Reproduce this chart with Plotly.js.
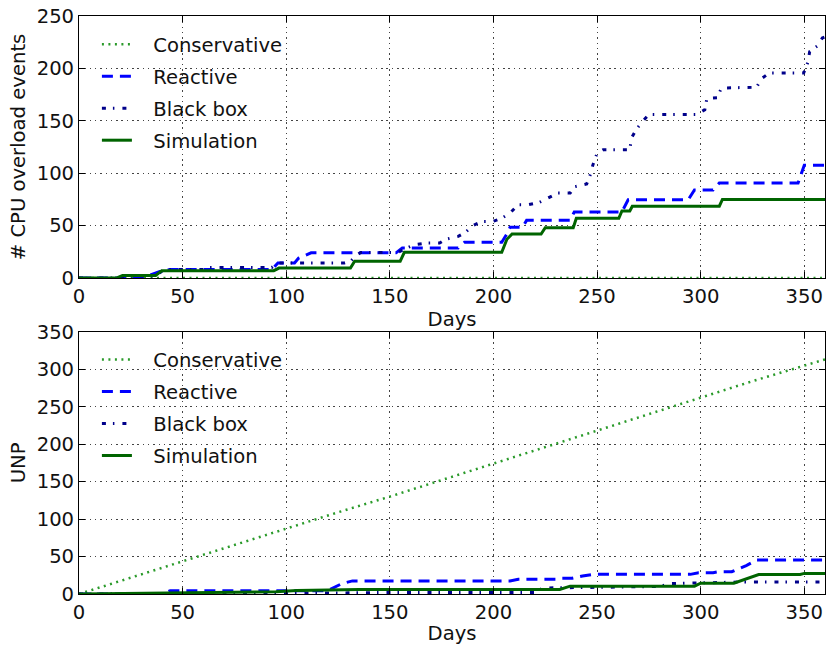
<!DOCTYPE html>
<html>
<head>
<meta charset="utf-8">
<script src="https://cdn.plot.ly/plotly-3.0.1.min.js"></script>
<style>
  html, body { margin: 0; padding: 0; background: #fff; }
  #chart { width: 826px; height: 645px; }
</style>
</head>
<body>
<div id="chart"></div>
<script>
// Series names shared by both panels
const seriesNames = ['Conservative', 'Reactive', 'Black box', 'Simulation'];
const xTicks = [0, 50, 100, 150, 200, 250, 300, 350];

// ---- Panel 1: cumulative CPU overload events ----
const cpuConsDays = [0, 360];
const cpuConsVals = [0, 0];

const cpuReacDays = [0, 20, 22, 32, 40, 44, 93, 96, 104, 106, 112, 153, 156, 183, 186, 204, 206.5, 208, 214, 216, 237, 239, 262, 265, 294, 297, 306, 309, 347, 350, 360];
const cpuReacVals = [0, 0, 1, 1, 7, 8, 8, 14.3, 14.3, 19, 24, 24, 28.6, 28.6, 34, 34, 42, 48.5, 48.5, 55, 55, 63, 63, 74.7, 74.7, 84, 84, 90.6, 90.6, 107.5, 107.5];

const cpuBboxDays = [0, 20, 22, 37, 41, 60, 63, 93, 96, 128, 131, 134, 136, 154, 158, 162, 168, 174, 177, 183, 186.5, 190, 194.5, 199.7, 204, 208, 212, 217, 222, 226, 231, 237, 239, 245, 247, 248, 250, 253, 265.8, 266.6, 269, 272, 275, 298, 302, 303, 308, 310, 327, 329.3, 333, 349.7, 351.7, 352.6, 356.5, 358.7, 360];
const cpuBboxVals = [0, 0, 2, 2, 8, 8, 10, 10, 14.3, 14.3, 16, 22, 24.4, 24.4, 28.6, 31.8, 33.4, 33.4, 37, 39.7, 43.5, 50, 54, 54, 57, 62, 70, 70, 72, 76, 81, 81, 87, 89.7, 100, 108, 119, 122.4, 122.4, 133.6, 142, 149.4, 156, 156, 160.6, 171.4, 172, 181.3, 182, 190, 195.6, 195.6, 205.7, 216, 221.7, 229, 230];

const cpuSimDays = [0, 18, 21, 37, 40, 94, 96.5, 131, 133, 155, 157, 204, 206.5, 209, 223, 225, 238.5, 240, 260.5, 262, 265.8, 267, 309, 310.5, 360];
const cpuSimVals = [0, 0, 2.5, 2.5, 7, 7, 9.5, 9.5, 16, 16, 24.5, 24.5, 37, 42, 42, 48, 48, 57, 57, 64, 64, 68.5, 68.5, 75, 75];

// ---- Panel 2: UNP ----
const unpConsDays = [0, 25, 50, 75, 100, 125, 150, 175, 200, 225, 250, 275, 300, 325, 360];
const unpConsVals = [0, 22, 43, 66, 87.6, 109, 130, 152, 174, 195, 217, 240, 262, 284, 313];

const unpReacDays = [0, 40, 44, 118, 121, 127, 132, 208, 212, 230, 233, 238, 243, 248, 295, 299, 306, 309, 315, 322, 327, 360];
const unpReacVals = [0, 0, 4.4, 4.4, 6, 14, 17.5, 17.5, 19.6, 19.6, 21, 21, 24, 26.2, 26.2, 28.4, 28.4, 29.8, 29.8, 38, 45.4, 45.4];

const unpBboxDays = [0, 100, 130, 150, 220, 224, 240, 280, 286, 300, 320, 360];
const unpBboxVals = [0, 0.5, 1.5, 2, 2, 8, 8.5, 10, 14, 15, 16, 16];

const unpSimDays = [0, 20, 45, 95, 105, 125, 135, 232, 237, 297, 300, 316, 328, 348, 350, 360];
const unpSimVals = [0, 0.5, 2, 3, 4.5, 5, 6, 6, 10.5, 10.5, 14.5, 14.5, 26, 26, 27.5, 27.5];

// Line styles per series
const styles = [
  { color: '#2a9a2a', width: 2.5, dash: '2px,4.5px' },
  { color: '#0000ff', width: 3, dash: '11px,7px' },
  { color: '#00008b', width: 3, dash: '4px,7px,1.5px,8px' },
  { color: '#006400', width: 3, dash: 'solid' }
];

const FONT = 'DejaVu Sans, Verdana, sans-serif';
const FS = 19.6;
// extra room between the legend sample line and its label
const LEGEND_PAD = '\u00a0\u00a0\u2009';

function makeTraces(daysList, valsList, xa, ya, legendId, groupPrefix) {
  return daysList.map((d, i) => ({
    x: d,
    y: valsList[i],
    type: 'scatter',
    mode: 'lines',
    name: LEGEND_PAD + seriesNames[i],
    xaxis: xa,
    yaxis: ya,
    legend: legendId,
    legendgroup: groupPrefix + i,
    line: { color: styles[i].color, width: styles[i].width, dash: styles[i].dash }
  }));
}

const data = [
  ...makeTraces([cpuConsDays, cpuReacDays, cpuBboxDays, cpuSimDays],
                [cpuConsVals, cpuReacVals, cpuBboxVals, cpuSimVals], 'x', 'y', 'legend', 'a'),
  ...makeTraces([unpConsDays, unpReacDays, unpBboxDays, unpSimDays],
                [unpConsVals, unpReacVals, unpBboxVals, unpSimVals], 'x2', 'y2', 'legend2', 'b')
];

function xAxis(anchor) {
  return {
    anchor: anchor, domain: [0, 1], range: [0, 360],
    tickvals: xTicks, ticks: 'inside', ticklen: 6, tickcolor: '#000',
    showline: true, linecolor: '#000', linewidth: 1, mirror: 'ticks',
    showgrid: true, gridcolor: '#444', gridwidth: 1, griddash: '1.5px,3.8px',
    zeroline: false,
    tickfont: { family: FONT, size: FS, color: '#111' },
    title: { text: 'Days', font: { family: FONT, size: FS, color: '#111' }, standoff: 3 }
  };
}
function yAxis(anchor, domain, range, title) {
  return {
    anchor: anchor, domain: domain, range: range, dtick: 50,
    ticks: 'inside', ticklen: 6, tickcolor: '#000',
    showline: true, linecolor: '#000', linewidth: 1, mirror: 'ticks',
    showgrid: true, gridcolor: '#444', gridwidth: 1, griddash: '1.5px,3.8px',
    zeroline: false,
    tickfont: { family: FONT, size: FS, color: '#111' },
    title: { text: title, font: { family: FONT, size: FS, color: '#111' }, standoff: 5 }
  };
}

const legendBase = {
  xanchor: 'left', yanchor: 'top', bgcolor: 'rgba(0,0,0,0)', borderwidth: 0,
  font: { family: FONT, size: FS, color: '#111' },
  itemwidth: 30, traceorder: 'grouped', tracegroupgap: 3.5
};

const layout = {
  width: 826, height: 645,
  margin: { l: 79, r: 1, t: 16, b: 51 },
  paper_bgcolor: '#fff', plot_bgcolor: '#fff',
  showlegend: true,
  xaxis: xAxis('y'),
  yaxis: yAxis('x', [0.5467, 1], [0, 250], '# CPU overload events'),
  xaxis2: xAxis('y2'),
  yaxis2: yAxis('x2', [0, 0.4538], [0, 350], 'UNP'),
  legend: Object.assign({}, legendBase, { x: 0.024, y: 0.9844 }),
  legend2: Object.assign({}, legendBase, { x: 0.024, y: 0.4391 })
};

Plotly.newPlot('chart', data, layout, { displayModeBar: false, staticPlot: true });
</script>
</body>
</html>
